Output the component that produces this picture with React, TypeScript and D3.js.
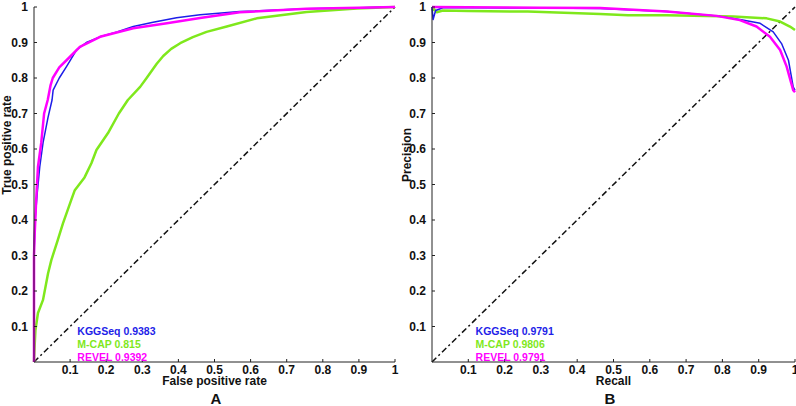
import * as d3 from "d3";

// ROC curves (panel A)
const KGG_FPR = [0, 0, 0.003, 0.009, 0.016, 0.025, 0.039, 0.05, 0.053, 0.07, 0.09, 0.118, 0.145, 0.183, 0.23, 0.275, 0.33, 0.395, 0.46, 0.57, 0.755, 0.9, 1];
const KGG_TPR = [0, 0.3, 0.4, 0.476, 0.55, 0.617, 0.69, 0.738, 0.766, 0.8, 0.832, 0.879, 0.9, 0.916, 0.93, 0.945, 0.957, 0.97, 0.978, 0.987, 0.995, 0.998, 1];

const REVEL_FPR = [0, 0, 0.002, 0.006, 0.011, 0.02, 0.028, 0.038, 0.046, 0.052, 0.07, 0.09, 0.127, 0.183, 0.275, 0.368, 0.46, 0.57, 0.755, 0.9, 1];
const REVEL_TPR = [0, 0.3, 0.363, 0.456, 0.55, 0.617, 0.7, 0.738, 0.78, 0.8, 0.83, 0.85, 0.888, 0.916, 0.94, 0.954, 0.969, 0.985, 0.995, 0.998, 1];

const MCAP_FPR = [0, 0.002, 0.004, 0.011, 0.025, 0.039, 0.048, 0.066, 0.08, 0.103, 0.113, 0.14, 0.159, 0.173, 0.205, 0.235, 0.26, 0.294, 0.312, 0.34, 0.358, 0.38, 0.405, 0.44, 0.478, 0.534, 0.617, 0.755, 0.894, 1];
const MCAP_TPR = [0, 0.05, 0.09, 0.138, 0.175, 0.25, 0.287, 0.344, 0.39, 0.456, 0.484, 0.52, 0.56, 0.597, 0.645, 0.7, 0.738, 0.775, 0.8, 0.84, 0.862, 0.882, 0.898, 0.915, 0.93, 0.945, 0.968, 0.986, 0.996, 1];

// Precision-recall curves (panel B)
const KGG_REC = [0, 0.003, 0.01, 0.03, 0.1, 0.3, 0.463, 0.647, 0.784, 0.848, 0.904, 0.94, 0.963, 0.982, 0.995, 1];
const KGG_PREC = [1, 0.965, 0.99, 0.998, 0.998, 0.997, 0.996, 0.987, 0.975, 0.965, 0.954, 0.93, 0.897, 0.85, 0.775, 0.765];

const REVEL_REC = [0, 0.1, 0.3, 0.463, 0.647, 0.784, 0.848, 0.894, 0.931, 0.959, 0.977, 0.995, 1];
const REVEL_PREC = [1, 0.999, 0.998, 0.997, 0.987, 0.975, 0.963, 0.945, 0.916, 0.879, 0.832, 0.766, 0.76];

const MCAP_REC = [0, 0.005, 0.013, 0.03, 0.1, 0.264, 0.463, 0.54, 0.647, 0.83, 0.922, 0.959, 0.986, 1];
const MCAP_PREC = [0.99, 0.995, 0.985, 0.99, 0.989, 0.987, 0.98, 0.977, 0.977, 0.973, 0.968, 0.959, 0.945, 0.935];

const TICKS = [0.1, 0.2, 0.3, 0.4, 0.5, 0.6, 0.7, 0.8, 0.9, 1];
const ROC_LEGEND = ["KGGSeq 0.9383", "M-CAP 0.815", "REVEL 0.9392"];
const PR_LEGEND = ["KGGSeq 0.9791", "M-CAP 0.9806", "REVEL 0.9791"];

const BLUE = "#1e1ee8";
const GREEN = "#7fe81c";
const MAGENTA = "#ff00ff";
const FONT = "'Liberation Sans', Arial, sans-serif";

type Series = { xs: number[]; ys: number[]; color: string; width: number };

function Panel(props: {
  x0: number; x1: number; y0: number; y1: number;
  series: Series[]; legend: string[];
  xTitle: string; yTitle: string; letter: string;
  yTitleX: number; yTitleY: number; letterX: number;
}) {
  const { x0, x1, y0, y1, series, legend } = props;
  const x = d3.scaleLinear().domain([0, 1]).range([x0, x1]);
  const y = d3.scaleLinear().domain([0, 1]).range([y0, y1]);
  const colors = [BLUE, GREEN, MAGENTA];

  // draw order: green, blue, magenta on top
  const order = [1, 0, 2];

  return (
    <g>
      {/* diagonal */}
      <line x1={x(0)} y1={y(0)} x2={x(1)} y2={y(1)} stroke="#111" strokeWidth={1.5}
        strokeDasharray="6,3,2,3" />
      {order.map((i) => {
        const s = series[i];
        const line = d3.line<number>().x((d) => x(d)).y((_, k) => y(s.ys[k]));
        return <path key={i} d={line(s.xs) || ""} fill="none" stroke={s.color}
          strokeWidth={s.width} strokeLinejoin="round" />;
      })}
      {/* axes */}
      <line x1={x0} y1={y0} x2={x1} y2={y0} stroke="#222" strokeWidth={1} />
      <line x1={x0} y1={y0} x2={x0} y2={y1} stroke="#222" strokeWidth={1} />
      {TICKS.map((t) => (
        <g key={"x" + t}>
          <line x1={x(t)} x2={x(t)} y1={y0} y2={y0 - 3} stroke="#222" />
          <text x={x(t)} y={y0 + 12} textAnchor="middle" fontSize={12} fontWeight="bold"
            fontFamily={FONT} fill="#111">{t === 1 ? "1" : t.toFixed(1)}</text>
        </g>
      ))}
      {TICKS.map((t) => (
        <g key={"y" + t}>
          <line x1={x0} x2={x0 + 3} y1={y(t)} y2={y(t)} stroke="#222" />
          <text x={x0 - 6} y={y(t)} dy="0.35em" textAnchor="end" fontSize={12} fontWeight="bold"
            fontFamily={FONT} fill="#111">{t === 1 ? "1" : t.toFixed(1)}</text>
        </g>
      ))}
      {legend.map((l, i) => (
        <text key={l} x={x(0.12)} y={334.5 + i * 13.3} fontSize={10.5} fontWeight="bold"
          fontFamily={FONT} fill={colors[i]}>{l}</text>
      ))}
      <text x={(x0 + x1) / 2} y={y0 + 23} textAnchor="middle" fontSize={12} fontWeight="bold"
        fontFamily={FONT} fill="#111">{props.xTitle}</text>
      <text transform={`translate(${props.yTitleX},${props.yTitleY}) rotate(-90)`} textAnchor="middle"
        fontSize={12} fontWeight="bold" fontFamily={FONT} fill="#111">{props.yTitle}</text>
      <text x={props.letterX} y={404} textAnchor="middle" fontSize={15} fontWeight="bold"
        fontFamily={FONT} fill="#111">{props.letter}</text>
    </g>
  );
}

export default function App() {
  const rocSeries: Series[] = [
    { xs: KGG_FPR, ys: KGG_TPR, color: BLUE, width: 1.5 },
    { xs: MCAP_FPR, ys: MCAP_TPR, color: GREEN, width: 2.5 },
    { xs: REVEL_FPR, ys: REVEL_TPR, color: MAGENTA, width: 2.5 },
  ];
  const prSeries: Series[] = [
    { xs: KGG_REC, ys: KGG_PREC, color: BLUE, width: 1.5 },
    { xs: MCAP_REC, ys: MCAP_PREC, color: GREEN, width: 2.5 },
    { xs: REVEL_REC, ys: REVEL_PREC, color: MAGENTA, width: 2.5 },
  ];
  return (
    <svg width={796} height={406} style={{ position: "absolute", left: 0, top: 0, background: "#fff" }}>
      <Panel x0={34} x1={395} y0={362} y1={7} series={rocSeries} legend={ROC_LEGEND}
        xTitle="False positive rate" yTitle="True positive rate" letter="A"
        yTitleX={11} yTitleY={145} letterX={216} />
      <Panel x0={432} x1={795} y0={362} y1={7} series={prSeries} legend={PR_LEGEND}
        xTitle="Recall" yTitle="Precision" letter="B"
        yTitleX={411} yTitleY={155} letterX={610} />
    </svg>
  );
}
